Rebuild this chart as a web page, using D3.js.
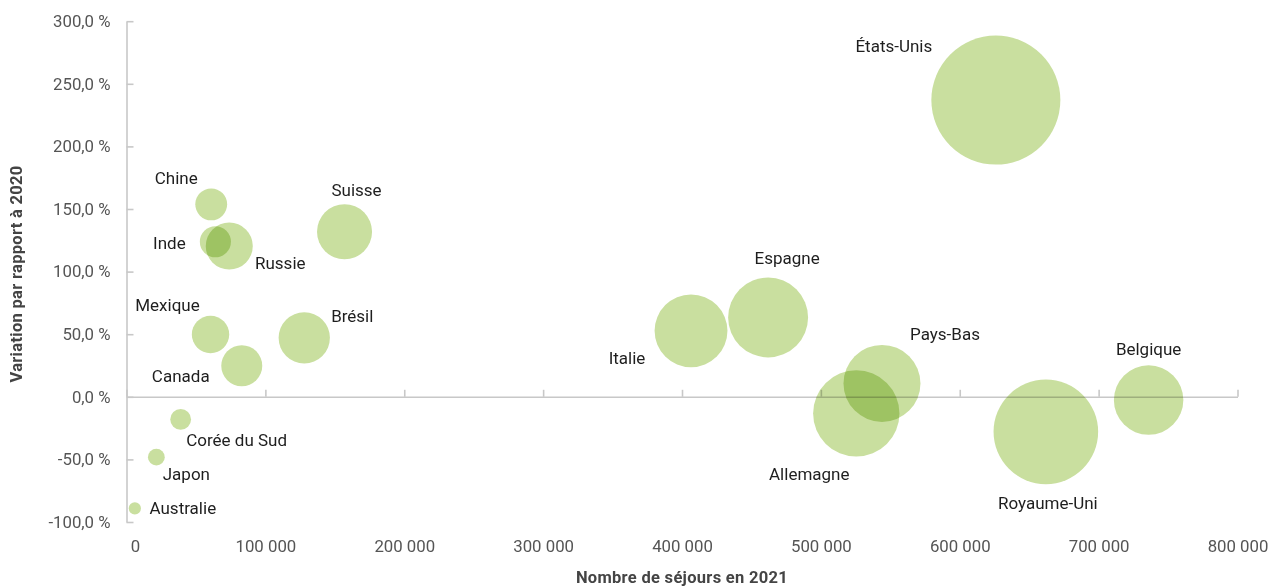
<!DOCTYPE html>
<html lang="fr">
<head>
<meta charset="UTF-8">
<title>Séjours 2021 et variation par rapport à 2020</title>
<script src="https://d3js.org/d3.v7.min.js"></script>
<style>
  html, body { margin: 0; padding: 0; background: #fff; }
  body { font-family: Roboto, "DejaVu Sans", sans-serif; }
  .axis path, .axis line { stroke: #c8c8c8; stroke-width: 1.6; fill: none; }
  .axis text { fill: #555; font-size: 16.8px; font-family: Roboto, sans-serif; }
  .bubble { fill: #c9df9f; mix-blend-mode: multiply; }
  .label { fill: #1e1e1e; font-size: 17px; }
  .title { fill: #444; font-size: 16.5px; font-weight: bold; letter-spacing: 0.3px; }
</style>
</head>
<body>
<svg width="1271" height="588"></svg>
<script>
// data
const pays = ['Chine', 'Inde', 'Russie', 'Suisse', 'Mexique', 'Brésil', 'Canada',
  'Corée du Sud', 'Japon', 'Australie', 'Italie', 'Espagne', 'Allemagne',
  'Pays-Bas', 'Belgique', 'Royaume-Uni', 'États-Unis'];
const sejours2021 = [61000, 64000, 74000, 157000, 60500, 128000, 83000,
  39000, 21500, 6000, 406500, 462000, 525500,
  544000, 736000, 662000, 626000];
const variation2020 = [153.7, 123.8, 120.4, 131.8, 49.8, 47.1, 24.8,
  -18.1, -48.2, -89.1, 52.7, 63.4, -13.3,
  10.7, -2.6, -28.0, 237.0];
// relative bubble size (area)
const taille = [61, 58, 133, 182, 84, 158, 101,
  26, 17, 9, 319, 384, 448,
  356, 290, 657, 1000];

const xTicks = [0, 100000, 200000, 300000, 400000, 500000, 600000, 700000, 800000];
const yTicks = [-100, -50, 0, 50, 100, 150, 200, 250, 300];

// label placement relative to the bubble centre (layout only)
const labelOffset = {
  'Chine': [-35, -20], 'Inde': [-46, 7], 'Russie': [51, 23], 'Suisse': [12, -36],
  'Mexique': [-43, -23], 'Brésil': [48, -16], 'Canada': [-61, 16],
  'Corée du Sud': [56, 27], 'Japon': [30, 23], 'Australie': [48, 6],
  'Italie': [-64, 33], 'Espagne': [19, -53], 'Allemagne': [-47, 67],
  'Pays-Bas': [63, -43], 'Belgique': [0, -45], 'Royaume-Uni': [2, 77],
  'États-Unis': [-102, -48]
};

const data = pays.map((p, i) => ({
  pays: p, x: sejours2021[i], y: variation2020[i], s: taille[i]
}));

const svg = d3.select('svg');

const x = d3.scaleLinear().domain([0, 800000]).range([126.5, 1237.5]);
const y = d3.scaleLinear().domain([-100, 300]).range([522, 21.2]);
const r = d3.scaleSqrt().domain([0, d3.max(taille)]).range([0, 64.5]);

const fr = d3.formatLocale({ decimal: ',', thousands: ' ', grouping: [3], currency: ['', ' €'] });
const fmtX = fr.format(',d');
const fmtY = d => d.toFixed(1).replace('.', ',') + ' %';

// y axis (ticks pointing into the plot)
svg.append('g')
  .attr('class', 'axis')
  .attr('transform', `translate(${x(0)},0)`)
  .call(d3.axisLeft(y).tickValues(yTicks).tickSize(-7).tickPadding(16).tickSizeOuter(0).tickFormat(fmtY));

// x axis on the 0 % line, ticks upwards
svg.append('g')
  .attr('class', 'axis')
  .attr('transform', `translate(0,${y(0)})`)
  .call(d3.axisTop(x).tickValues(xTicks).tickSize(7).tickSizeOuter(0).tickFormat(''));

// x tick labels at the bottom
const xl = svg.append('g')
  .attr('class', 'axis')
  .attr('transform', `translate(0,${y(-100)})`)
  .call(d3.axisBottom(x).tickValues(xTicks).tickSize(0).tickPadding(18).tickFormat(fmtX));
xl.select('.domain').remove();
xl.selectAll('.tick').filter(d => d === 0).select('text').attr('dx', 8.5);

// bubbles, biggest first
svg.append('g')
  .selectAll('circle')
  .data(data.slice().sort((a, b) => b.s - a.s))
  .join('circle')
  .attr('class', 'bubble')
  .attr('cx', d => x(d.x))
  .attr('cy', d => y(d.y))
  .attr('r', d => r(d.s));

// country labels
svg.append('g')
  .selectAll('text')
  .data(data)
  .join('text')
  .attr('class', 'label')
  .attr('text-anchor', 'middle')
  .attr('x', d => x(d.x) + labelOffset[d.pays][0])
  .attr('y', d => y(d.y) + labelOffset[d.pays][1])
  .text(d => d.pays);

// axis titles
svg.append('text')
  .attr('class', 'title')
  .attr('text-anchor', 'middle')
  .attr('x', 682)
  .attr('y', 583)
  .text('Nombre de séjours en 2021');

svg.append('text')
  .attr('class', 'title')
  .attr('text-anchor', 'middle')
  .attr('transform', 'translate(22,274) rotate(-90)')
  .text('Variation par rapport à 2020');
</script>
</body>
</html>
